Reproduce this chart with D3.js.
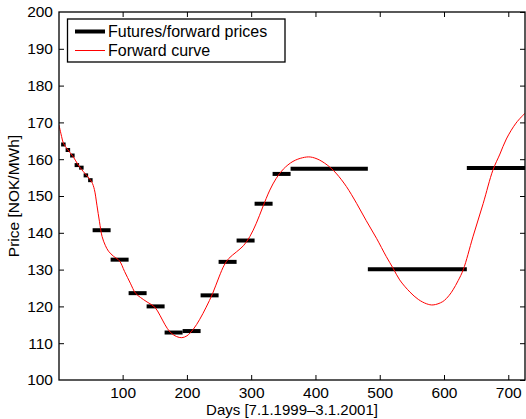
<!DOCTYPE html>
<html><head><meta charset="utf-8">
<script src="https://cdn.jsdelivr.net/npm/d3@7"></script>
<style>
body{margin:0;background:#fff;}
svg{display:block;}
text{font-family:"Liberation Sans",Arial,Helvetica,sans-serif;}
</style></head>
<body>
<script>
// Futures/forward contracts: [start day, end day, price]
const weekStarts = [4.3, 11.3, 18.3, 25.3, 32.3, 39.3, 46.3];
const weekPrices = [164.0, 162.5, 161.0, 158.4, 157.7, 155.6, 154.3];
const blockStarts = [53.3, 81.3, 109.3, 137.3, 165.3, 193.3, 221.3, 249.3, 277.3, 305.3, 333.3];
const blockPrices = [140.7, 132.7, 123.6, 120.0, 112.9, 113.3, 123.0, 132.1, 137.9, 147.9, 156.0];
const seasonStarts = [361.3, 481.5, 635.5];
const seasonEnds = [481.5, 635.5, 740];
const seasonPrices = [157.4, 130.1, 157.6];

// Forward curve (day, price)
const curveDays = [1,5,8,15,23,31,39,46,52,56,60,64,68,73,78,86,95,103,112,120,128,138,150,158,166,174,184,192,200,210,220,230,240,250,258,265,277,288,298,308,318,329,339,350,365,380,392,406,422,433,448,464,479,495,510,521,531,547,560,573,583,598,608,614,622,630,645,661,676,687,697,712,726];
const curvePrices = [169.3,166.2,164.3,162.5,160.7,158.4,156.6,155.2,153.8,151.8,147.5,143.0,139.0,136.6,135.0,133.6,132.4,129.5,126.3,123.6,122.4,121.2,119.8,117.6,115.0,113.0,111.8,111.5,112.0,113.8,116.5,119.8,123.5,128.0,131.2,133.0,134.8,136.5,139.0,142.6,147.0,151.6,154.8,157.3,159.4,160.4,160.6,159.8,157.9,156.0,152.6,148.0,143.3,138.5,133.6,130.3,127.2,123.9,121.9,120.7,120.4,121.3,123.0,124.5,127.0,130.0,138.9,148.0,157.0,161.4,165.5,169.8,172.5];

const xTicks = [100,200,300,400,500,600,700];
const yTicks = [100,110,120,130,140,150,160,170,180,190,200];

const W = 526, H = 419;
const L = 59, R = 525, T = 12, B = 380;

const svg = d3.select("body").append("svg").attr("width", W).attr("height", H);
const x = d3.scaleLinear().domain([1, 726]).range([L, R]);
const y = d3.scaleLinear().domain([100, 200]).range([B, T]);

svg.append("defs").append("clipPath").attr("id","clip")
  .append("rect").attr("x", L).attr("y", T).attr("width", R-L).attr("height", B-T);

const contracts = [];
weekStarts.forEach((s,i)=>contracts.push([s, s+7, weekPrices[i]]));
blockStarts.forEach((s,i)=>contracts.push([s, s+28, blockPrices[i]]));
seasonStarts.forEach((s,i)=>contracts.push([s, seasonEnds[i], seasonPrices[i]]));

const g = svg.append("g").attr("clip-path","url(#clip)");
g.selectAll("line.bar").data(contracts).enter().append("line")
  .attr("x1", d=>x(d[0])).attr("x2", d=>x(d[1]))
  .attr("y1", d=>y(d[2])).attr("y2", d=>y(d[2]))
  .attr("stroke", "#000").attr("stroke-width", 4);

const pts = curveDays.map((d,i)=>[d, curvePrices[i]]);
g.append("path").datum(pts)
  .attr("d", d3.line().x(d=>x(d[0])).y(d=>y(d[1])).curve(d3.curveCatmullRom.alpha(0.5)))
  .attr("fill","none").attr("stroke","#ff0000").attr("stroke-width",1);

// Axes
const fs = "15.5px";
const tickLen = 5;
const axB = svg.append("g").attr("transform",`translate(0,${B})`)
  .call(d3.axisBottom(x).tickValues(xTicks).tickSize(-tickLen).tickPadding(7));
const axT = svg.append("g").attr("transform",`translate(0,${T})`)
  .call(d3.axisTop(x).tickValues(xTicks).tickSize(-tickLen).tickFormat(""));
const axL = svg.append("g").attr("transform",`translate(${L},0)`)
  .call(d3.axisLeft(y).tickValues(yTicks).tickSize(-tickLen).tickPadding(6));
const axR = svg.append("g").attr("transform",`translate(${R},0)`)
  .call(d3.axisRight(y).tickValues(yTicks).tickSize(-tickLen).tickFormat(""));
[axB,axT,axL,axR].forEach(a=>{
  a.select(".domain").remove();
  a.selectAll("line").attr("stroke","#000").attr("stroke-width",1);
  a.selectAll("text").attr("fill","#000").style("font-size",fs).style("font-family","'Liberation Sans',Arial,sans-serif");
});
axL.selectAll(".tick").filter(d=>d===100||d===200).select("line").remove();
svg.append("rect").attr("x",L).attr("y",T).attr("width",R-L).attr("height",B-T)
  .attr("fill","none").attr("stroke","#000").attr("stroke-width",1.3);

// Axis labels
svg.append("text").attr("x",(L+R)/2).attr("y",415).attr("text-anchor","middle")
  .style("font-size","15px").text("Days [7.1.1999–3.1.2001]");
svg.append("text").attr("transform",`translate(19,${(T+B)/2}) rotate(-90)`).attr("text-anchor","middle")
  .style("font-size",fs).text("Price [NOK/MWh]");

// Legend
const lg = svg.append("g");
lg.append("rect").attr("x",67.5).attr("y",19).attr("width",217.5).attr("height",43)
  .attr("fill","#fff").attr("stroke","#000").attr("stroke-width",1.3);
lg.append("line").attr("x1",75).attr("x2",105).attr("y1",31.5).attr("y2",31.5).attr("stroke","#000").attr("stroke-width",4);
lg.append("line").attr("x1",75).attr("x2",105).attr("y1",50.5).attr("y2",50.5).attr("stroke","#ff0000").attr("stroke-width",1);
lg.append("text").attr("x",108).attr("y",37).style("font-size","16px").text("Futures/forward prices");
lg.append("text").attr("x",108).attr("y",56).style("font-size","16px").text("Forward curve");
</script>
</body></html>
